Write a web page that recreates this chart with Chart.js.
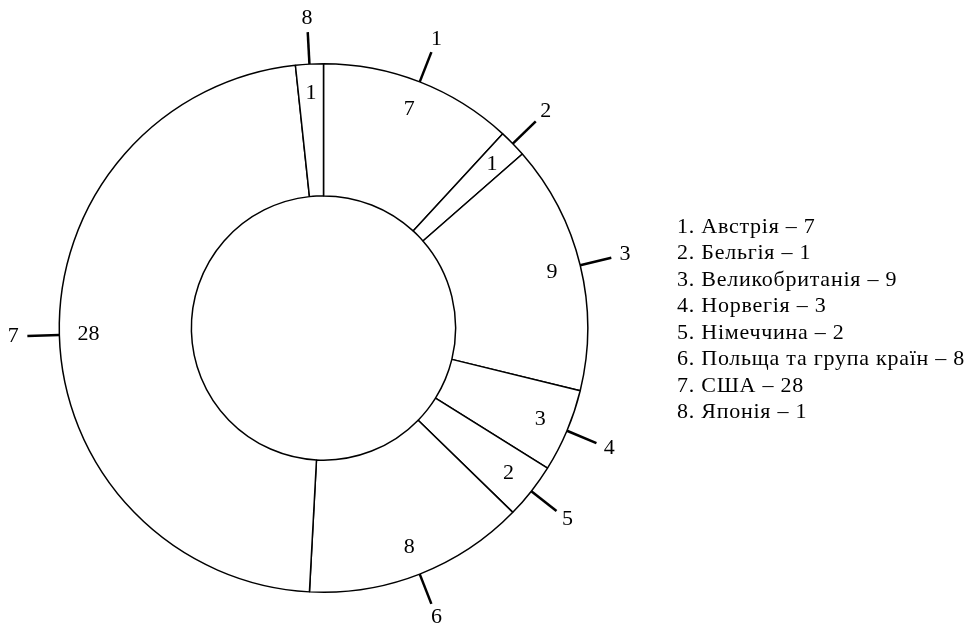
<!DOCTYPE html>
<html>
<head>
<meta charset="utf-8">
<title>Країни</title>
<script src="https://cdn.jsdelivr.net/npm/chart.js@4.4.1/dist/chart.umd.min.js"></script>
<style>
  html, body { margin: 0; padding: 0; background: #fff; }
  #wrap { position: relative; width: 969px; height: 628px; }
</style>
</head>
<body>
<div id="wrap"><canvas id="countryChart" width="969" height="628"></canvas></div>
<script>
var countries = ['Австрія', 'Бельгія', 'Великобританія', 'Норвегія', 'Німеччина', 'Польща та група країн', 'США', 'Японія'];
var counts = [7, 1, 9, 3, 2, 8, 28, 1];
var tick_labels = ['1', '2', '3', '4', '5', '6', '7', '8'];

var font_family = '"Liberation Serif", "Times New Roman", serif';

// labels inside the ring + short ticks with numbers outside + legend list
var ringLabels = {
  id: 'ringLabels',
  afterDatasetsDraw: function (chart) {
    var ctx = chart.ctx;
    var meta = chart.getDatasetMeta(0);
    ctx.save();
    ctx.fillStyle = '#000';
    ctx.strokeStyle = '#000';
    ctx.font = '22px ' + font_family;
    ctx.textAlign = 'center';
    ctx.textBaseline = 'middle';
    meta.data.forEach(function (arc, i) {
      var p = arc.getProps(['x', 'y', 'startAngle', 'endAngle', 'innerRadius', 'outerRadius'], true);
      var mid = (p.startAngle + p.endAngle) / 2;
      var cos = Math.cos(mid), sin = Math.sin(mid);
      var r_val = p.innerRadius + (p.outerRadius - p.innerRadius) * 0.78;
      ctx.fillText(String(counts[i]), p.x + cos * r_val, p.y + sin * r_val);

      // tick
      ctx.lineWidth = 2.5;
      ctx.beginPath();
      ctx.moveTo(p.x + cos * p.outerRadius, p.y + sin * p.outerRadius);
      ctx.lineTo(p.x + cos * (p.outerRadius + 32), p.y + sin * (p.outerRadius + 32));
      ctx.stroke();
      ctx.fillText(tick_labels[i], p.x + cos * (p.outerRadius + 46), p.y + sin * (p.outerRadius + 46));
    });

    // legend list on the right
    ctx.textAlign = 'left';
    ctx.letterSpacing = '0.75px';
    countries.forEach(function (name, i) {
      ctx.fillText(tick_labels[i] + '. ' + name + ' \u2013 ' + counts[i], 677, 227 + i * 26.5);
    });
    ctx.restore();
  }
};

var ctx = document.getElementById('countryChart').getContext('2d');
var countryChart = new Chart(ctx, {
  type: 'doughnut',
  data: {
    labels: countries,
    datasets: [{
      data: counts,
      backgroundColor: '#fff',
      borderColor: '#000',
      borderWidth: 1.5,
      hoverOffset: 0
    }]
  },
  options: {
    responsive: false,
    animation: false,
    cutout: '50%',
    rotation: 0,
    layout: {
      padding: { left: 58, right: 380, top: 63, bottom: 35 }
    },
    plugins: {
      legend: { display: false },
      tooltip: { enabled: false }
    },
    events: []
  },
  plugins: [ringLabels]
});
</script>
</body>
</html>
